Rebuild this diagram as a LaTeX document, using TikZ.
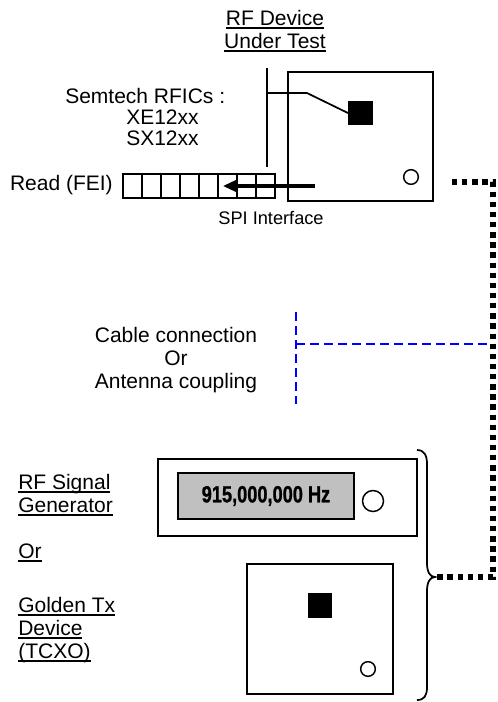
\documentclass[tikz,border=0pt]{standalone}
\usepackage{fontspec}
\setmainfont{Liberation Sans}
\usetikzlibrary{positioning, arrows.meta}
\definecolor{linkblue}{RGB}{0, 0, 255}
\definecolor{lcdgray}{RGB}{192, 192, 192}
\newsavebox\ulbox
\newcommand{\ulin}[1]{\sbox\ulbox{#1}\rlap{\rule[-3pt]{\wd\ulbox}{1.5pt}}\usebox\ulbox}

\begin{document}
\begin{tikzpicture}[x=0.75pt, y=-0.75pt,
        board/.style={draw, line width=1.4pt, inner sep=0pt,
            minimum width=108.75pt, minimum height=96.75pt},
        chip/.style={fill=black, minimum size=18.5pt, inner sep=0pt},
        led/.style={draw, circle, line width=1.1pt, minimum size=11pt, inner sep=0pt},
        cell/.style={draw, line width=1.3pt, inner sep=0pt,
            minimum width=14.25pt, minimum height=18pt},
        lbl/.style={font=\fontsize{15.75}{17.25}\selectfont, inner sep=0pt, align=center},
        rf/.style={line width=4pt, dash pattern=on 4pt off 3.6pt},
        couple/.style={linkblue, line width=2.2pt, dash pattern=on 6.75pt off 3.75pt}
    ]
    \useasboundingbox (0,0) rectangle (498,702);

    % device under test
    \node[board] (dut) at (360.5, 136.5) {};
    \node[chip] (dutchip) at (360.5, 113) {};
    \node[led] (dutled) at (411, 177) {};
    \node[lbl] (dutlabel) at (275, 31) {\ulin{RF Device}\\\ulin{Under Test}};

    \node[lbl, align=left, anchor=west,
          font=\fontsize{15.75}{16.1}\selectfont] (rfics) at (65, 117) {
        Semtech RFICs :\\
        \hspace*{45.75pt}XE12xx\\
        \hspace*{45.75pt}SX12xx
    };
    \draw[line width=1.3pt] (267, 68) -- (267, 167);
    \draw[line width=1.3pt] (267, 93) -- (307, 93) -- (dutchip.west);

    % FEI register
    \foreach \i in {0,...,7}
        \node[cell] (reg\i) at (132.5+19*\i, 186) {};
    \node[lbl, anchor=east] (read) at (113, 185) {Read (FEI)};
    \node[lbl, font=\fontsize{13.65}{15}\selectfont] (spi) at (271, 218) {SPI Interface};

    \coordinate (spiin) at (315, 186);
    \coordinate (spiout) at (223, 186);
    \draw[line width=2.4pt, -{Triangle[length=11pt, width=9.5pt]}] (spiin) -- (spiout);

    % link between the two sides
    \node[lbl] (cable) at (176, 360) {Cable connection\\Or\\Antenna coupling};
    \coordinate (link) at (296, 344);
    \draw[couple] (296, 312) -- (296, 404);
    \draw[couple] (link) -- (490, 344);

    % signal sources
    \node[board, minimum width=194.25pt, minimum height=57.75pt] (gen) at (287.5, 497.5) {};
    \node[draw, line width=1.4pt, fill=lcdgray, inner sep=0pt,
          minimum width=132pt, minimum height=34.5pt] (lcd) at (266, 496) {
        \fontsize{17.5}{19}\selectfont\bfseries\addfontfeatures{FakeBold=1.2}%
        \scalebox{0.78}[1]{915,000,000 Hz}
    };
    \node[led, minimum size=15.75pt] (genled) at (373, 501) {};

    \node[board, minimum width=109.5pt, minimum height=97.5pt] (gold) at (320, 629) {};
    \node[chip] (goldchip) at (320, 605.5) {};
    \node[led] (goldled) at (368, 669) {};

    \node[lbl, align=left, anchor=west] (genlabel) at (18, 495) {\ulin{RF Signal}\\\ulin{Generator}};
    \node[lbl, anchor=west] (orlabel) at (18, 553) {\ulin{Or}};
    \node[lbl, align=left, anchor=west] (goldlabel) at (18, 630) {\ulin{Golden Tx}\\\ulin{Device}\\\ulin{(TCXO)}};

    % brace round both sources
    \coordinate (bracetip) at (435, 577);
    \draw[line width=1.3pt] (417, 450) .. controls (424, 450) and (427, 455) .. (427, 464)
        -- (427, 563) .. controls (427, 572) and (430, 577) .. (bracetip)
        .. controls (430, 577) and (427, 582) .. (427, 591)
        -- (427, 687) .. controls (427, 696) and (424, 700) .. (417, 700);

    % RF path
    \coordinate (dutout) at (452, 182);
    \draw[rf] (dutout) -- (493, 182) -- (493, 577) -- (bracetip);

\end{tikzpicture}
\end{document}
